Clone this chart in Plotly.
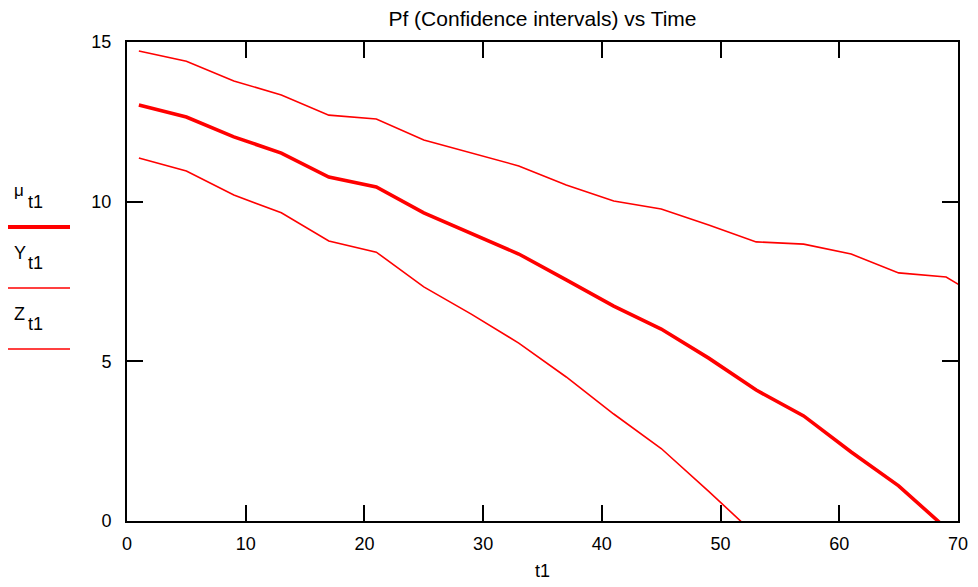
import plotly.graph_objects as go

t1 = [1, 5, 9, 13, 17, 21, 25, 29, 33, 37, 41, 45, 49, 53, 57, 61, 65, 69, 73]
mu = [13.03, 12.65, 12.03, 11.52, 10.77, 10.46, 9.65, 9.02, 8.36, 7.55, 6.73, 6.01, 5.10, 4.10, 3.29, 2.16, 1.10, -0.23, -1.5]
Y = [14.72, 14.40, 13.78, 13.34, 12.71, 12.59, 11.93, 11.52, 11.12, 10.52, 10.02, 9.77, 9.27, 8.74, 8.67, 8.36, 7.77, 7.64, 6.76]
Z = [11.37, 10.96, 10.21, 9.65, 8.77, 8.42, 7.33, 6.48, 5.57, 4.51, 3.35, 2.27, 0.93, -0.45, -1.8, -3.2, -4.6, -6.0, -7.4]

x_ticks = [0, 10, 20, 30, 40, 50, 60, 70]
y_ticks = [0, 5, 10, 15]

RED = "#ff0000"
FONT = "Liberation Sans, Arial, sans-serif"

L, R, T, B = 127, 20, 42, 66
PW, PH = 978 - L - R, 587 - T - B

def px(x):
    return (x - L) / PW

def py(y):
    return (587 - B - y) / PH

fig = go.Figure()
fig.add_trace(go.Scatter(x=t1, y=Y, mode="lines", line=dict(color=RED, width=1.6), name="Y"))
fig.add_trace(go.Scatter(x=t1, y=mu, mode="lines", line=dict(color=RED, width=3.6), name="mu"))
fig.add_trace(go.Scatter(x=t1, y=Z, mode="lines", line=dict(color=RED, width=1.6), name="Z"))

axis_common = dict(
    showline=True, linecolor="black", linewidth=2, mirror="ticks",
    ticks="inside", ticklen=16, tickwidth=2, tickcolor="black",
    showgrid=False, zeroline=False, automargin=False,
    tickfont=dict(family=FONT, size=18, color="black"),
)

fig.update_layout(
    width=978, height=587,
    margin=dict(l=L, r=R, t=T, b=B),
    paper_bgcolor="white", plot_bgcolor="white",
    showlegend=False,
    title=dict(text="Pf (Confidence intervals) vs Time", x=0.5, xanchor="center",
               xref="paper", y=1 - 19 / 587, yanchor="middle",
               font=dict(family=FONT, size=21, color="black")),
    xaxis=dict(range=[0, 70], tickvals=x_ticks, ticklabelstandoff=5,
               title=dict(text="t1", font=dict(family=FONT, size=18, color="black"), standoff=12),
               **axis_common),
    yaxis=dict(range=[0, 15], tickvals=y_ticks, ticklabelstandoff=10, **axis_common),
)

# legend-like labels on the left (Mathcad style)
leg = [("μ", 17, 190, 4.0, 0), ("Y", 18, 253, 1.6, 61), ("Z", 18, 314, 1.6, 122)]
for txt, fs, ymain, w, dy in leg:
    fig.add_annotation(text=txt, xref="paper", yref="paper",
                       x=px(12), y=py(ymain), xanchor="left", yanchor="middle",
                       showarrow=False, font=dict(family=FONT, size=fs, color="black"))
    fig.add_annotation(text="t1", xref="paper", yref="paper",
                       x=px(26), y=py(202 + dy), xanchor="left", yanchor="middle",
                       showarrow=False, font=dict(family=FONT, size=18, color="black"))
    yline = 227 + dy
    fig.add_shape(type="line", xref="paper", yref="paper",
                  x0=px(8), x1=px(70), y0=py(yline), y1=py(yline),
                  line=dict(color=RED, width=w))

fig.write_html("out.html")
